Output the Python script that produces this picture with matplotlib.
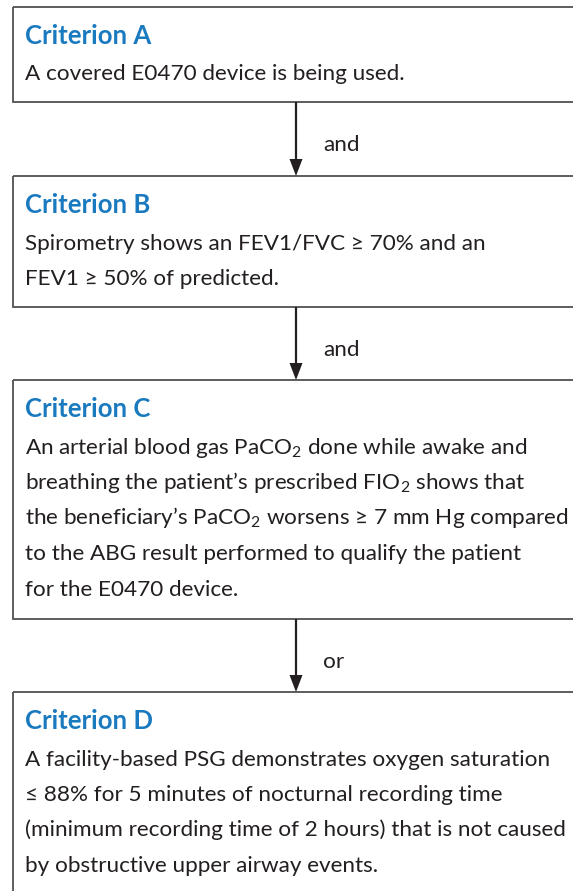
import matplotlib.pyplot as plt
import matplotlib.patches as mpatches

plt.rcParams["font.family"] = ["Lato", "DejaVu Sans"]
plt.rcParams["mathtext.fontset"] = "custom"
plt.rcParams["mathtext.rm"] = "Lato"
plt.rcParams["mathtext.it"] = "Lato"
plt.rcParams["mathtext.default"] = "regular"

# contenu du schéma
titles = ["Criterion A", "Criterion B", "Criterion C", "Criterion D"]
bodies = [
    ["A covered E0470 device is being used."],
    ["Spirometry shows an FEV1/FVC \u2265 70% and an",
     "FEV1 \u2265 50% of predicted."],
    ["An arterial blood gas PaCO$_2$ done while awake and",
     "breathing the patient\u2019s prescribed FIO$_2$ shows that",
     "the beneficiary\u2019s PaCO$_2$ worsens \u2265 7 mm Hg compared",
     "to the ABG result performed to qualify the patient",
     "for the E0470 device."],
    ["A facility-based PSG demonstrates oxygen saturation",
     "\u2264 88% for 5 minutes of nocturnal recording time",
     "(minimum recording time of 2 hours) that is not caused",
     "by obstructive upper airway events."],
]
connectors = ["and", "and", "or"]

# mise en page (pixels)
W, H = 573, 891
box_top = [7, 176, 380, 692]
box_bottom = [102, 307, 619, 905]
box_left = 13
text_x = 25
arrow_x = 296
blue = "#1a7abf"
dark = "#231f20"
edge = "#505050"
fs_body = 16.2
fs_title = 18.5

fig = plt.figure(figsize=(W / 100, H / 100), dpi=100)
ax = fig.add_axes([0, 0, 1, 1])
ax.set_xlim(0, W)
ax.set_ylim(H, 0)
ax.axis("off")

for i, title in enumerate(titles):
    top, bot = box_top[i], box_bottom[i]
    ax.add_patch(mpatches.Rectangle((box_left, top), 700, bot - top,
                                    fill=False, ec=edge, lw=1.3))
    ax.text(text_x, top + 37, title, color=blue, fontsize=fs_title,
            fontweight="bold", va="baseline", ha="left")
    for j, line in enumerate(bodies[i]):
        ax.text(text_x, top + 73.5 + 35.5 * j, line, color=dark,
                fontsize=fs_body, va="baseline", ha="left")

for i, word in enumerate(connectors):
    y0 = box_bottom[i]
    y1 = box_top[i + 1]
    ax.arrow(arrow_x, y0, 0, y1 - y0, width=2.2, head_width=13,
             head_length=17, length_includes_head=True, color=dark, lw=0)
    ax.text(323, (y0 + y1) / 2 + 12, word, color=dark, fontsize=fs_body,
            va="baseline", ha="left")

plt.savefig("out.png", dpi=100)
